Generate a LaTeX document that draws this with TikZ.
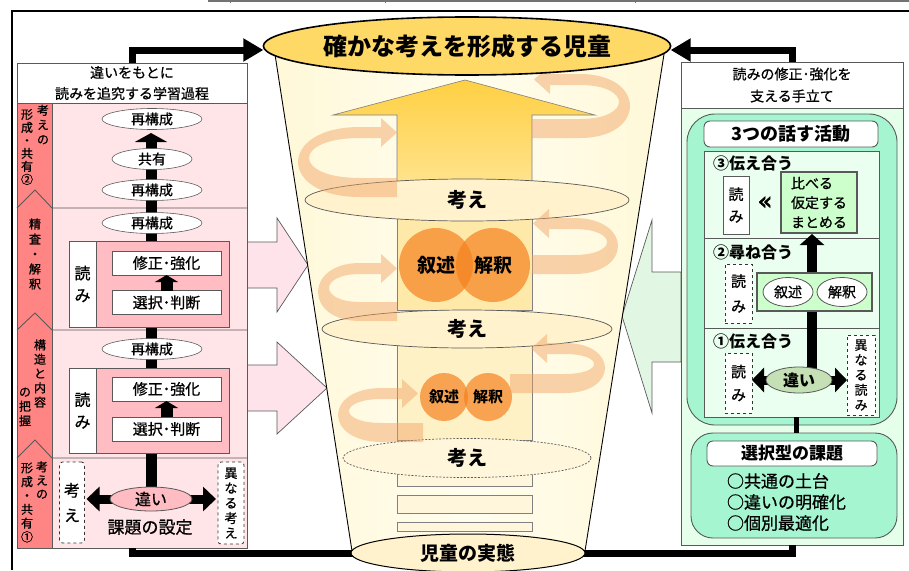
\documentclass[tikz,border=0pt]{standalone}
\usepackage{fontspec}
\setmainfont{Noto Sans CJK JP}[UprightFeatures={FakeBold=0.8}]
\newfontfamily\djv{DejaVu Sans}[FakeBold=2.5]
\usetikzlibrary{arrows.meta,shapes.geometric}
\newcommand{\fsz}[2]{\fontsize{#1}{#2}\selectfont}
\definecolor{stripe}{HTML}{FF8585}
\definecolor{pinkbg}{HTML}{FFE5E8}
\definecolor{pinkmid}{HTML}{FFBCC2}
\definecolor{pinkarw}{HTML}{FFE3EA}
\definecolor{gold}{HTML}{FFD966}
\definecolor{cream}{HTML}{FFF2CC}
\definecolor{funA}{HTML}{FFF8D8}
\definecolor{funB}{HTML}{FFFDEE}
\definecolor{rectA}{HTML}{FFE9A8}
\definecolor{rectB}{HTML}{FFF1C6}
\definecolor{rectC}{HTML}{FFF6DC}
\definecolor{arwtop}{HTML}{FFD043}
\definecolor{arwbot}{HTML}{FFE9A3}
\definecolor{circ}{HTML}{F58220}
\definecolor{ribc}{HTML}{F0A060}
\definecolor{mint}{HTML}{A6F5D1}
\definecolor{lgreen}{HTML}{E6FFEB}
\definecolor{lgreen2}{HTML}{EAFFEF}
\definecolor{gbox}{HTML}{CCFFCC}
\definecolor{gell}{HTML}{C5E0B4}
\definecolor{garw}{HTML}{E2F6E4}
\definecolor{edge}{HTML}{595959}
% ribbon opening to the left, arrow at top pointing left
\newcommand{\ribR}[6]{%
\pgfmathsetmacro{\rbB}{#2+#4}%
\pgfmathsetmacro{\rbBi}{#2+#4-19}%
\pgfmathsetmacro{\rbT}{#2-#4}%
\pgfmathsetmacro{\rbTi}{#2-#4+11}%
\pgfmathsetmacro{\rbKo}{#1+1.333*#3}%
\pgfmathsetmacro{\rbKi}{#1+1.333*(#3-11)}%
\pgfmathsetmacro{\rbH}{#6+16}%
\pgfmathsetmacro{\rbM}{#2-#4+5.5}%
\pgfmathsetmacro{\rbU}{#2-#4-9}%
\pgfmathsetmacro{\rbD}{#2-#4+20}%
\fill[ribbonstyle] (#5,\rbB) -- (#1,\rbB) .. controls (\rbKo,\rbB) and (\rbKo,\rbT) .. (#1,\rbT) -- (\rbH,\rbT) -- (\rbH,\rbU) -- (#6,\rbM) -- (\rbH,\rbD) -- (\rbH,\rbTi) -- (#1,\rbTi) .. controls (\rbKi,\rbTi) and (\rbKi,\rbBi) .. (#1,\rbBi) -- (#5,\rbBi) -- cycle;}
% ribbon opening to the right, arrow at top pointing right
\newcommand{\ribL}[6]{%
\pgfmathsetmacro{\rbB}{#2+#4}%
\pgfmathsetmacro{\rbBi}{#2+#4-19}%
\pgfmathsetmacro{\rbT}{#2-#4}%
\pgfmathsetmacro{\rbTi}{#2-#4+11}%
\pgfmathsetmacro{\rbKo}{#1-1.333*#3}%
\pgfmathsetmacro{\rbKi}{#1-1.333*(#3-11)}%
\pgfmathsetmacro{\rbH}{#6-16}%
\pgfmathsetmacro{\rbM}{#2-#4+5.5}%
\pgfmathsetmacro{\rbU}{#2-#4-9}%
\pgfmathsetmacro{\rbD}{#2-#4+20}%
\fill[ribbonstyle] (#5,\rbB) -- (#1,\rbB) .. controls (\rbKo,\rbB) and (\rbKo,\rbT) .. (#1,\rbT) -- (\rbH,\rbT) -- (\rbH,\rbU) -- (#6,\rbM) -- (\rbH,\rbD) -- (\rbH,\rbTi) -- (#1,\rbTi) .. controls (\rbKi,\rbTi) and (\rbKi,\rbBi) .. (#1,\rbBi) -- (#5,\rbBi) -- cycle;}
\begin{document}
\begin{tikzpicture}[x=1pt,y=-1pt,
 every node/.style={inner sep=0pt,outer sep=0pt,align=center,font=\fsz{14}{16}},
 ell/.style={ellipse,draw=edge,fill=white,line width=0.6pt,minimum height=21pt},
 wbox/.style={draw=edge,fill=white,line width=0.9pt,minimum width=109pt,minimum height=24pt,font=\fsz{15}{16}},
 dbox/.style={draw=black!80,dashed,fill=white,rounded corners=3pt,line width=0.8pt},
 conn/.style={line width=7pt},
 bar/.style={line width=11pt},
 grn/.style={draw=edge,fill=gbox,line width=1.4pt},
 ribbonstyle/.style={fill=ribc,fill opacity=0.45},
 lbl/.style={anchor=west,font=\bfseries\fsz{16}{16}},
 pane/.style={draw=edge,line width=0.9pt},
 kangae/.style={ellipse,draw=edge,fill=cream,line width=0.7pt,font=\bfseries\fsz{20}{20}},
 orb/.style={circle,fill=circ,fill opacity=0.7,text opacity=1}
]
\useasboundingbox (0,0) rectangle (909,570);
% frame
\draw[black!55,line width=1.5pt] (208,1) -- (909,1);
\draw[black!55,line width=1pt] (230,0)--(230,3) (385,0)--(385,3) (635,0)--(635,3);
\draw[line width=1.2pt] (12,570) -- (12,11) -- (909,11);

% side arrows into the funnel
\filldraw[fill=pinkarw,draw=edge,line width=0.7pt] (247,242) -- (277,242) -- (277,218) -- (308,265) -- (277,312) -- (277,288) -- (247,288) -- cycle;
\filldraw[fill=pinkarw,draw=edge,line width=0.7pt] (247,365) -- (277,365) -- (277,342) -- (327,388) -- (277,434) -- (277,411) -- (247,411) -- cycle;
\filldraw[fill=garw,draw=edge,line width=0.7pt] (681,272) -- (652,272) -- (652,220) -- (622,316) -- (652,413) -- (652,362) -- (681,362) -- cycle;

% ===== left panel =====
\node[pane,fill=white,minimum width=230pt,minimum height=40pt,font=\fsz{14}{21}] (lh) at (132,83) {違いをもとに\\読みを追究する学習過程};
\node[pane,fill=pinkbg,minimum width=230pt,minimum height=445pt] (lp) at (132,325.5) {};
\fill[stripe] (17,103) rectangle (52,548);
\draw[edge,line width=0.9pt] (52,103) -- (52,548);
\draw[edge,line width=0.9pt] (17,208) -- (35,190) -- (52,208) -- (247,208);
\draw[edge,line width=0.9pt] (17,330) -- (35,313) -- (52,330) -- (247,330);
\draw[edge,line width=0.9pt] (17,458) -- (35,440) -- (52,458) -- (247,458);
\draw[edge,line width=0.9pt] (lp.north west) rectangle (lp.south east);
\node[font=\fsz{12}{14.5}] (s1a) at (43,124.5) {考\\え\\の};
\node[font=\fsz{12}{13}] (s1b) at (27,147) {形\\成\\・\\共\\有\\②};
\node[font=\fsz{12}{15}] (s2a) at (35,254) {精\\査\\・\\解\\釈};
\node[font=\fsz{12}{14.3}] (s3a) at (40,373.5) {構\\造\\と\\内\\容};
\node[font=\fsz{12}{14.5}] (s3b) at (25,407) {の\\把\\握};
\node[font=\fsz{12}{13.5}] (s4a) at (42,480) {考\\え\\の};
\node[font=\fsz{12}{13.8}] (s4b) at (27,502.5) {形\\成\\・\\共\\有\\①};

\coordinate (barB) at (151,499);
\coordinate (barT) at (151,133);
\draw[bar,-{Triangle[length=9pt,width=32pt]}] (barB) -- (barT);

\node[ell,minimum width=100pt] (r1) at (152,119) {再構成};
\node[ell,minimum width=80pt] (k1) at (152,159) {共有};
\node[ell,minimum width=100pt] (r2) at (152,190) {再構成};
\node[ell,minimum width=100pt] (r3) at (152,223) {再構成};

\node[pane,fill=pinkmid,minimum width=160pt,minimum height=86pt] (b2) at (149,284) {};
\node[pane,fill=white,minimum width=27pt,minimum height=86pt,font=\fsz{16}{22}] (y2) at (82.5,284) {読\\み};
\node[wbox] (s2) at (166.5,263) {修正･強化};
\node[wbox] (j2) at (166.5,302.5) {選択･判断};
\draw[line width=12pt,-{Triangle[length=7pt,width=23pt]}] (j2.north) -- (s2.south);

\node[ell,minimum width=100pt] (r4) at (152,349) {再構成};
\node[pane,fill=pinkmid,minimum width=160pt,minimum height=85pt] (b3) at (149,410.5) {};
\node[pane,fill=white,minimum width=27pt,minimum height=85pt,font=\fsz{16}{22}] (y3) at (82.5,410.5) {読\\み};
\node[wbox] (s3) at (166.5,389) {修正･強化};
\node[wbox] (j3) at (166.5,429) {選択･判断};
\draw[line width=12pt,-{Triangle[length=7pt,width=23pt]}] (j3.north) -- (s3.south);

\node[dbox,minimum width=25pt,minimum height=81pt,font=\fsz{16}{25}] (kg) at (72,502.5) {考\\え};
\node[dbox,minimum width=26pt,minimum height=82pt,font=\fsz{13}{15}] (ik) at (231,503) {異\\な\\る\\考\\え};
\draw[line width=9pt,{Triangle[length=13pt,width=24pt]}-{Triangle[length=13pt,width=24pt]}] ([xshift=2pt]kg.east |- barB) -- ([xshift=-2pt]ik.west |- barB);
\node[ellipse,draw=edge,fill=pinkmid,line width=0.8pt,minimum width=82pt,minimum height=24pt,font=\fsz{16}{16}] (chg) at (barB) {違い};
\node[font=\fsz{17}{17}] (kadai) at (150,527) {課題の設定};

% ===== right panel =====
\node[pane,fill=white,minimum width=222pt,minimum height=46pt,font=\fsz{14}{22}] (rh) at (792,85) {読みの修正･強化を\\支える手立て};
\node[pane,fill=lgreen,minimum width=222pt,minimum height=437pt] (rp) at (792,326.5) {};
\node[pane,fill=mint,rounded corners=28pt,minimum width=210pt,minimum height=311pt] (m1) at (792,269.5) {};
\node[pane,fill=white,rounded corners=6pt,minimum width=174pt,minimum height=26pt,font=\bfseries\fsz{18}{18}] (act) at (791,134) {3つの話す活動};
\node[pane,fill=lgreen2,minimum width=175pt,minimum height=266pt] (inb) at (791.5,284) {};
\draw[edge,line width=0.9pt] (704,238) -- (879,238) (704,328) -- (879,328);

\node[lbl] (l3) at (713,163) {③伝え合う};
\node[pane,fill=white,minimum width=26pt,minimum height=58pt,font=\fsz{15}{22}] (ry3) at (736,205) {読\\み};
\node[font=\djv\fsz{24}{24}] (gl) at (765,203) {«};
\coordinate (vB) at (812,372);
\coordinate (vT) at (812,234);
\draw[line width=10pt,-{Triangle[length=11pt,width=24pt]}] (vB) -- (vT);
\node[grn,minimum width=76pt,minimum height=61pt,align=left,font=\fsz{14}{19.5}] (gb3) at (819,202.5) {比べる\\仮定する\\まとめる};

\node[lbl] (l2) at (713,252) {②尋ね合う};
\node[dbox,rounded corners=0pt,minimum width=27pt,minimum height=59pt,font=\fsz{15}{25}] (ry2) at (738.5,293.5) {読\\み};
\node[grn,minimum width=115pt,minimum height=38pt] (gb2) at (814.5,292) {};
\node[ellipse,draw=edge,fill=white,line width=0.8pt,minimum width=50pt,minimum height=29pt,font=\fsz{14}{14}] (e1) at (788,292) {叙述};
\node[ellipse,draw=edge,fill=white,line width=0.8pt,minimum width=50pt,minimum height=29pt,font=\fsz{14}{14}] (e2) at (842,292) {解釈};

\node[lbl] (l1) at (713,341) {①伝え合う};
\node[dbox,rounded corners=0pt,minimum width=27pt,minimum height=60pt,font=\fsz{15}{23}] (ry1) at (738.5,383) {読\\み};
\node[dbox,rounded corners=0pt,minimum width=28pt,minimum height=80pt,font=\fsz{13}{15}] (ikR) at (861,375) {異\\な\\る\\読\\み};
\coordinate (cR) at (799,380);
\draw[line width=9pt,{Triangle[length=12pt,width=24pt]}-{Triangle[length=12pt,width=24pt]}] (ry1.east |- cR) -- (ikR.west |- cR);
\node[ellipse,draw=edge,fill=gell,line width=0.8pt,minimum width=66pt,minimum height=26pt,font=\bfseries\fsz{16}{16}] (chgR) at (cR) {違い};

\node[pane,fill=mint,rounded corners=22pt,minimum width=206pt,minimum height=105pt] (m2) at (794,485.5) {};
\draw[line width=5pt] ([xshift=5pt]inb.south) -- ([xshift=5pt]inb.south |- m2.north);
\node[pane,fill=white,rounded corners=6pt,minimum width=170pt,minimum height=25pt,font=\bfseries\fsz{17}{17}] (sel) at (792,453.5) {選択型の課題};
\node[anchor=west,align=left,font=\fsz{17}{21}] (pts) at (727,502) {○共通の土台\\○違いの明確化\\○個別最適化};

% ===== funnel =====
\shade[left color=funA,right color=funA,middle color=funB] (274,48) -- (665,48) -- (585,551) -- (352,551) -- cycle;
\draw[black,line width=0.9pt] (274,48) -- (352,551) (665,48) -- (585,551);
\shadedraw[top color=arwtop,bottom color=arwbot,draw=black!50,line width=0.6pt] (465,80) -- (595,115) -- (532,115) -- (532,215) -- (397,215) -- (397,115) -- (333,115) -- cycle;
\filldraw[fill=rectA,draw=black!50,line width=0.6pt] (397,205) rectangle (532,310);
\filldraw[fill=rectB,draw=black!50,line width=0.6pt] (397,335) rectangle (532,440);
\filldraw[fill=rectC,draw=black!50,line width=0.6pt] (397,440) rectangle (532,486);
\filldraw[fill=rectC,draw=black!50,line width=0.6pt] (397,495) rectangle (532,513);
\filldraw[fill=rectC,draw=black!50,line width=0.6pt] (397,522) rectangle (532,531);
\node[kangae,minimum width=324pt,minimum height=42pt] (kA) at (467,200) {考え};
\node[kangae,minimum width=290pt,minimum height=38pt] (kB) at (467,329) {考え};
\node[kangae,fill=rectC,dash pattern=on 2pt off 1.5pt,minimum width=248pt,minimum height=39pt] (kC) at (467,458) {考え};
\node[orb,minimum size=74pt,font=\bfseries\fsz{19}{19}] (c1) at (436,265) {叙述};
\node[orb,minimum size=74pt,font=\bfseries\fsz{19}{19}] (c2) at (493,265) {解釈};
\node[orb,minimum size=48pt,font=\bfseries\fsz{15}{15}] (c3) at (444,397) {叙述};
\node[orb,minimum size=48pt,font=\bfseries\fsz{15}{15}] (c4) at (488,397) {解釈};

\ribR{580}{106}{50}{32}{532}{534}
\ribL{360}{162}{62}{35}{397}{397}
\ribR{574}{246}{44}{28}{532}{533}
\ribL{360}{292}{42}{29}{397}{397}
\ribR{565}{368}{40}{25}{510}{531}
\ribL{382}{415}{44}{27}{423}{418}

\node[ellipse,draw=black,line width=1.6pt,fill=gold,minimum width=390pt,minimum height=58pt,font=\bfseries\fsz{24}{24}] (top) at (467,46) {確かな考えを形成する児童};

% connectors
\draw[conn,-{Triangle[length=20pt,width=22pt]}] (lh.north) |- ([yshift=-4pt]top.west);
\draw[conn,-{Triangle[length=20pt,width=22pt]}] (rh.north) |- ([yshift=-4pt]top.east);
\draw[conn] (lp.south) -- ++(0,5) -| (rp.south);

\node[ellipse,draw=black,line width=1pt,fill=cream,minimum width=234pt,minimum height=38pt,font=\bfseries\fsz{19}{19}] (bot) at (468,553) {児童の実態};
\end{tikzpicture}
\end{document}
